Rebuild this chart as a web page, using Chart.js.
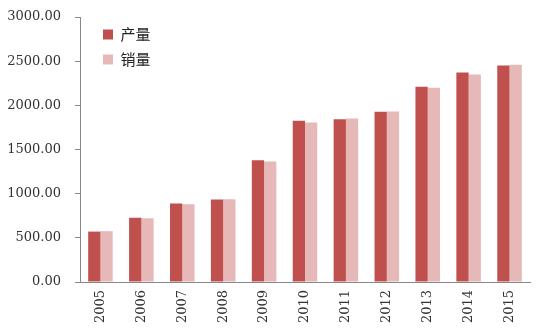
<!DOCTYPE html>
<html>
<head>
<meta charset="utf-8">
<script src="https://cdn.jsdelivr.net/npm/chart.js@4"></script>
<style>
  html, body { margin: 0; padding: 0; background: #fff; }
  #wrap { width: 548px; height: 330px; }
</style>
</head>
<body>
<div id="wrap"><canvas id="chanxiao"></canvas></div>
<script>
const years = ["2005", "2006", "2007", "2008", "2009", "2010", "2011", "2012", "2013", "2014", "2015"];
const chanliang = [570.77, 727.97, 888.89, 934.51, 1379.10, 1826.47, 1841.89, 1927.18, 2211.68, 2372.29, 2450.33];
const xiaoliang = [575.82, 721.60, 879.15, 938.05, 1364.48, 1806.19, 1850.51, 1930.64, 2198.41, 2349.19, 2459.76];

const SERIF = "'DejaVu Serif', 'Liberation Serif', serif";

// nudge the in-plot legend to where the original has it
const legendShift = {
  id: "legendShift",
  afterLayout(chart) {
    const lg = chart.legend;
    if (!lg) return;
    lg.left += 13;
    lg.right += 13;
    lg.top += 17;
    lg.bottom += 17;
  },
};

const data = {
  labels: years,
  datasets: [
    {
      label: "产量",
      data: chanliang,
      backgroundColor: "#C0504D",
    },
    {
      label: "销量",
      data: xiaoliang,
      backgroundColor: "#E6B9B8",
    },
  ],
};

const config = {
  type: "bar",
  data,
  plugins: [legendShift],
  options: {
    responsive: true,
    maintainAspectRatio: false,
    animation: false,
    datasets: {
      bar: { categoryPercentage: 0.6, barPercentage: 1.0 },
    },
    layout: {
      padding: { left: 0, right: 18, top: 17, bottom: 0 },
    },
    plugins: {
      legend: {
        position: "chartArea",
        align: "start",
        labels: {
          boxWidth: 10,
          boxHeight: 10,
          padding: 10,
          color: "#222",
          font: { family: "'Noto Sans CJK SC', sans-serif", size: 15 },
        },
      },
      tooltip: { enabled: false },
    },
    scales: {
      x: {
        afterFit: (s) => { s.height = 48; },
        grid: { drawOnChartArea: false, drawTicks: false },
        border: { display: true, color: "#888" },
        ticks: {
          minRotation: 90,
          maxRotation: 90,
          padding: 8,
          color: "#333",
          font: { family: SERIF, size: 13 },
        },
      },
      y: {
        min: 0,
        max: 3000,
        afterFit: (s) => { s.width = 80; s.paddingTop = 0; },
        grid: { drawOnChartArea: false, tickLength: 5, tickColor: "#888" },
        border: { display: true, color: "#888" },
        ticks: {
          stepSize: 500,
          padding: 14,
          color: "#333",
          font: { family: SERIF, size: 13 },
          callback: (v) => v.toFixed(2),
        },
      },
    },
  },
};

new Chart(document.getElementById("chanxiao"), config);
</script>
</body>
</html>
